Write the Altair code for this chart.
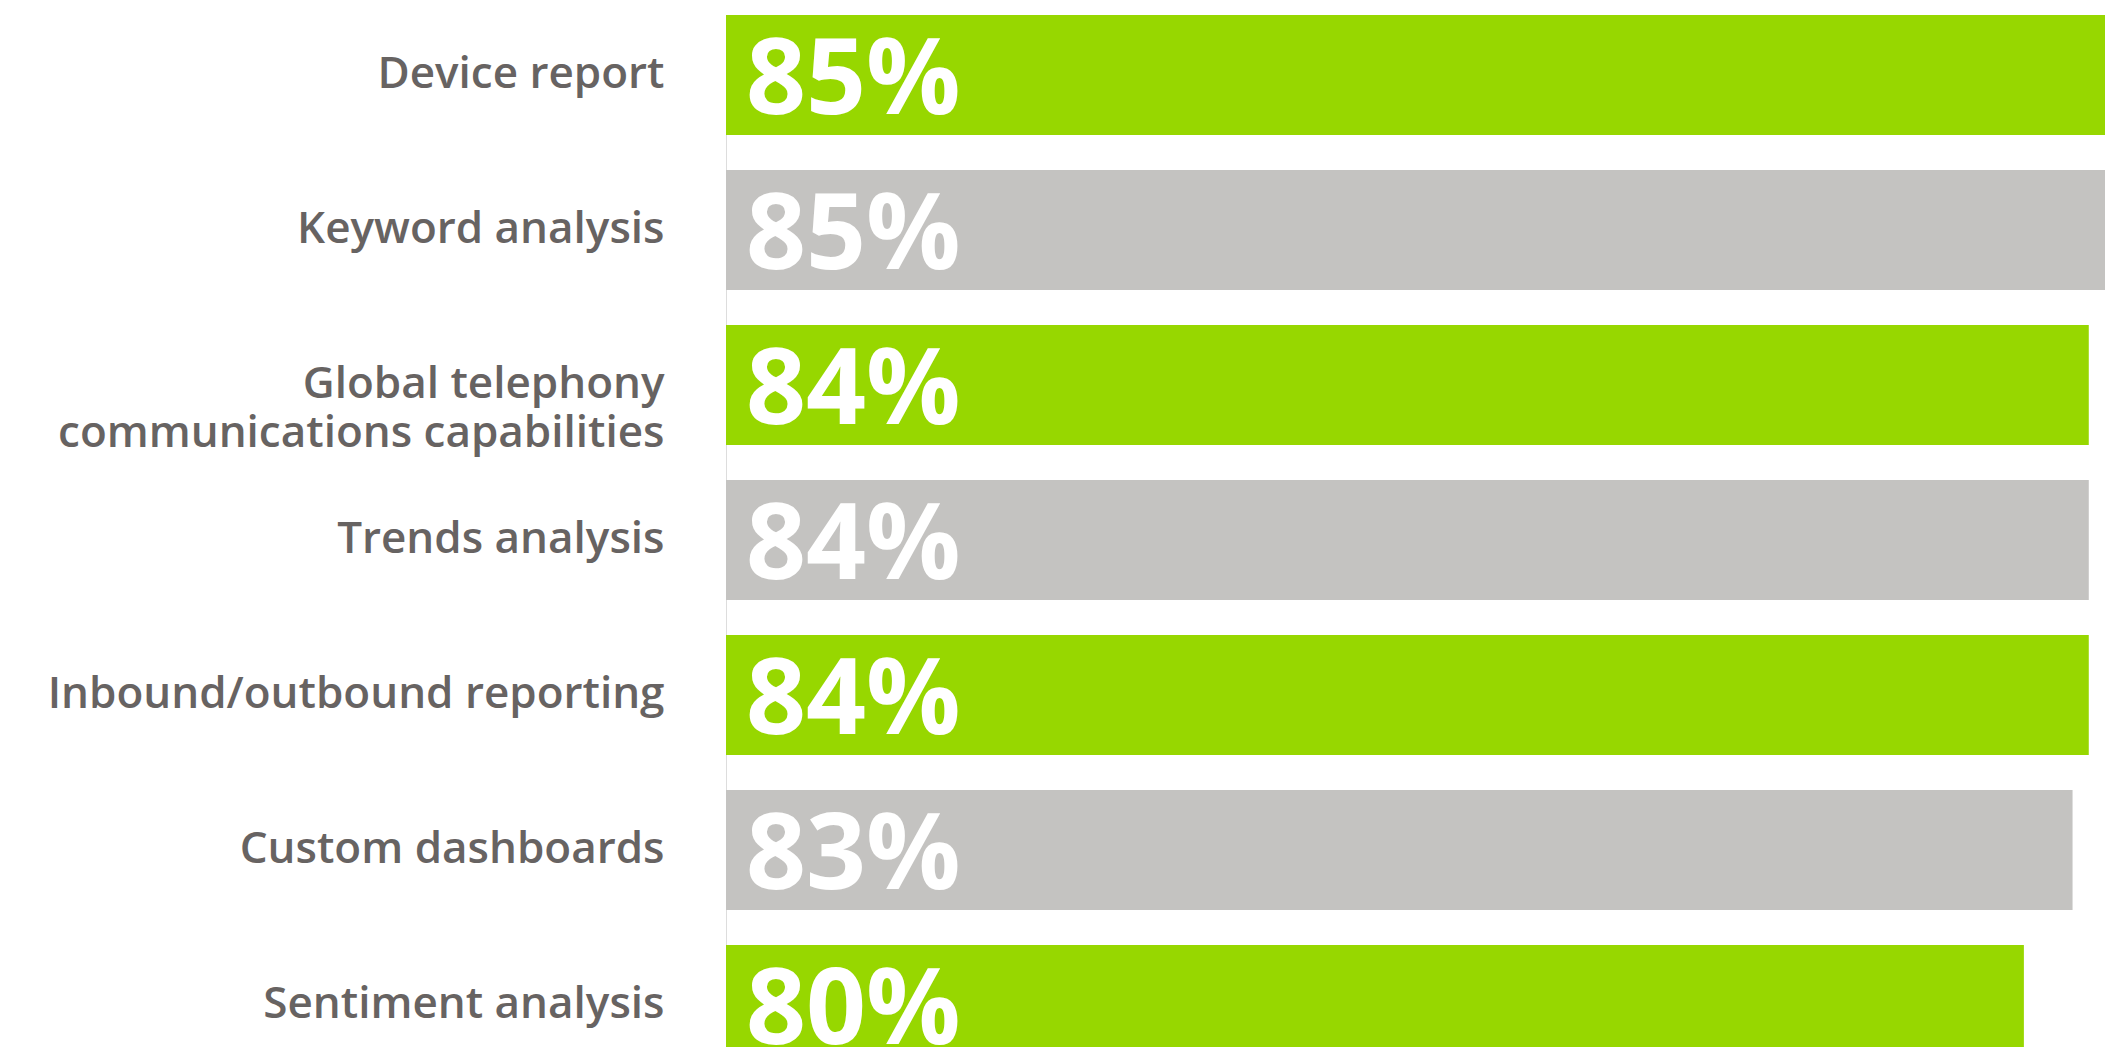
import altair as alt
import pandas as pd

categories = [
    "Device report",
    "Keyword analysis",
    "Global telephony|communications capabilities",
    "Trends analysis",
    "Inbound/outbound reporting",
    "Custom dashboards",
    "Sentiment analysis",
]
values = [85, 85, 84, 84, 84, 83, 80]
groups = ["green", "gray", "green", "gray", "green", "gray", "green"]

df = pd.DataFrame({
    "feature": categories,
    "pct": values,
    "grp": groups,
    "label": [f"{v}%" for v in values],
})

y = alt.Y(
    "feature:N",
    sort=categories,
    scale=alt.Scale(paddingInner=35 / 155, paddingOuter=0, range=[0, 1050]),
    axis=alt.Axis(
        title=None,
        ticks=False,
        domain=False,
        domainOpacity=0,
        grid=False,
        labelExpr="split(datum.label, '|')",
        labelFont="Open Sans",
        labelFontSize=44,
        labelFontWeight=600,
        labelColor="#676362",
        labelPadding=62,
        labelLineHeight=49,
        labelLimit=1000,
        labelBaseline="middle",
    ),
)

x = alt.X(
    "pct:Q",
    scale=alt.Scale(domain=[0, 85], nice=False, zero=True),
    axis=None,
)

bars = alt.Chart(df).mark_bar(size=120, strokeWidth=0).encode(
    y=y,
    x=x,
    color=alt.Color(
        "grp:N",
        scale=alt.Scale(domain=["green", "gray"], range=["#97d700", "#c4c3c1"]),
        legend=None,
    ),
)

text = alt.Chart(df).mark_text(
    align="left",
    baseline="alphabetic",
    dx=20,
    dy=39,
    font="Open Sans",
    fontSize=105,
    fontWeight="bold",
    color="white",
).encode(
    y=y,
    x=alt.datum(0),
    text="label:N",
)

chart = (
    alt.layer(bars, text)
    .properties(
        width=1379,
        height=1032,
        autosize=alt.AutoSizeParams(type="none"),
        padding={"left": 718, "top": 7, "right": 0, "bottom": 0},
    )
    .configure_view(strokeWidth=0, stroke="white", strokeOpacity=0)
    .configure_axis(grid=False, domain=False, domainOpacity=0)
    .configure(background="white")
)

chart.save("out.html", embed_options={"renderer": "svg", "actions": False})
